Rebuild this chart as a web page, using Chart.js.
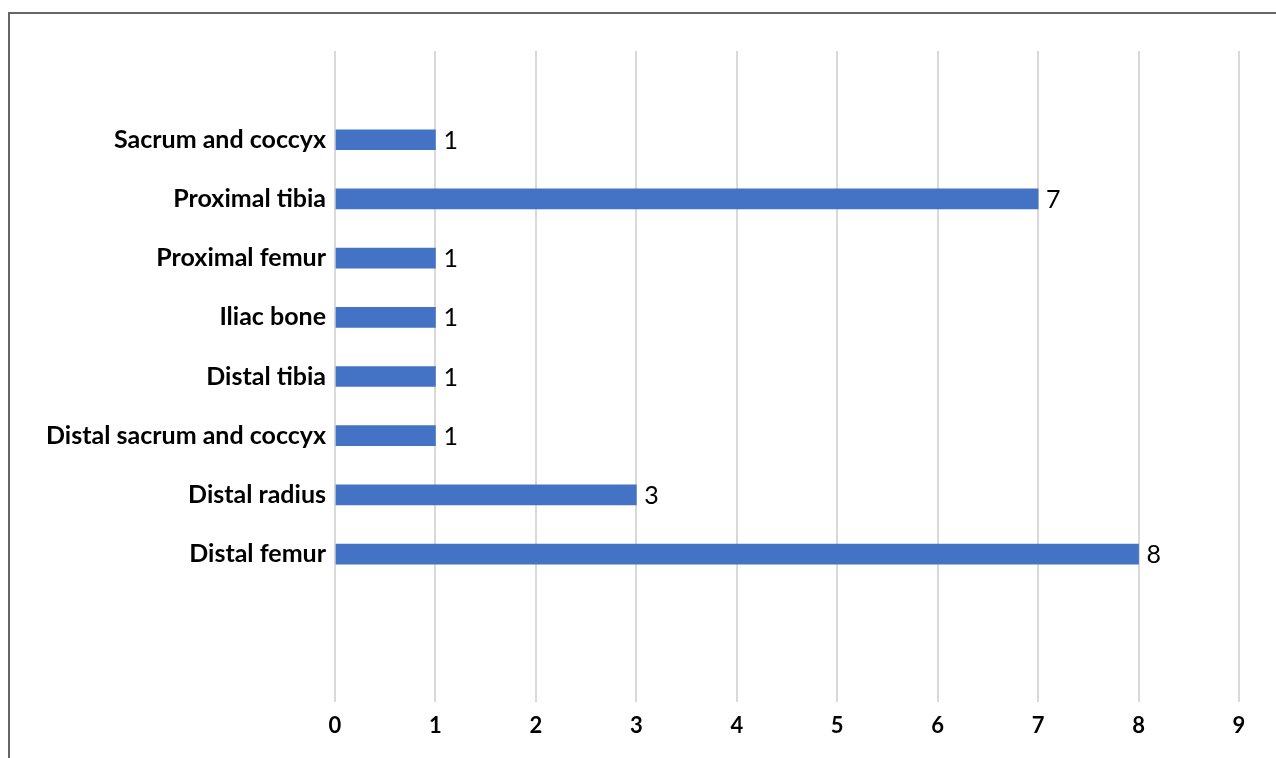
<!DOCTYPE html>
<html lang="en-US">
    <head>
        <title>Bone sites</title>
        <script src="https://cdn.jsdelivr.net/npm/chart.js@4.4.1/dist/chart.umd.min.js"></script>
        <style>
            body{
                margin: 0;
                background-color: white;
                overflow: hidden;
            }
            #frame{
                position: absolute;
                left: 8px;
                top: 12px;
                width: 1400px;
                height: 900px;
                border: 2px solid #666666;
            }
            #box{
                position: absolute;
                left: 0;
                top: 0;
                width: 1276px;
                height: 758px;
            }
        </style>
    </head>
    <body>
        <div id="frame"></div>
        <div id="box"><canvas id="chart-0"></canvas></div>

        <script>
            // categories, top to bottom
            var sites = ['Sacrum and coccyx', 'Proximal tibia', 'Proximal femur', 'Iliac bone',
                         'Distal tibia', 'Distal sacrum and coccyx', 'Distal radius', 'Distal femur'];
            var counts = [1, 7, 1, 1, 1, 1, 3, 8];
            var xTicks = [0, 1, 2, 3, 4, 5, 6, 7, 8, 9];

            // empty slots keep the spacing of the original (one above, two below)
            var labels = [''].concat(sites, ['', '']);
            var values = [null].concat(counts, [null, null]);

            var valueLabels = {
                id: 'valueLabels',
                afterDatasetsDraw: function(chart) {
                    var ctx = chart.ctx;
                    var meta = chart.getDatasetMeta(0);
                    ctx.save();
                    ctx.font = '25px Lato';
                    ctx.fillStyle = '#000000';
                    ctx.textAlign = 'left';
                    ctx.textBaseline = 'middle';
                    meta.data.forEach(function(bar, i) {
                        if (values[i] === null) return;
                        ctx.fillText(String(values[i]), bar.x + 8, bar.y + 1);
                    });
                    ctx.restore();
                }
            };

            var chart = new Chart('chart-0', {
                type: 'bar',
                data: {
                    labels: labels,
                    datasets: [{
                        data: values,
                        backgroundColor: '#4472C4',
                        barThickness: 20
                    }]
                },
                options: {
                    indexAxis: 'y',
                    responsive: true,
                    maintainAspectRatio: false,
                    animation: false,
                    layout: { padding: { top: 51, right: 37, bottom: 0, left: 0 } },
                    plugins: {
                        legend: { display: false },
                        tooltip: { enabled: false }
                    },
                    scales: {
                        x: {
                            min: 0,
                            max: 9,
                            afterFit: function(scale) { scale.height = 56; },
                            afterBuildTicks: function(scale) {
                                scale.ticks = xTicks.map(function(v) { return { value: v }; });
                            },
                            grid: { color: '#d9d9d9', lineWidth: 2, drawTicks: false },
                            border: { display: false },
                            ticks: {
                                padding: 11,
                                color: '#000000',
                                font: { family: 'Lato', size: 22, weight: 'bold' }
                            }
                        },
                        y: {
                            afterFit: function(scale) { scale.width = 335; },
                            grid: { display: false, drawTicks: false },
                            border: { display: false },
                            ticks: {
                                padding: 9,
                                color: '#000000',
                                autoSkip: false,
                                font: { family: 'Lato', size: 25, weight: 'bold' }
                            }
                        }
                    }
                },
                plugins: [valueLabels]
            });
        </script>
    </body>
</html>
